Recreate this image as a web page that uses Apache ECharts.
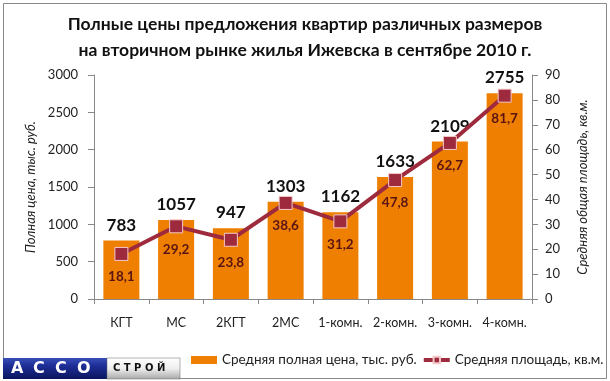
<!DOCTYPE html>
<html>
<head>
<meta charset="utf-8">
<script src="https://cdn.jsdelivr.net/npm/echarts@6/dist/echarts.min.js"></script>
<style>
html,body{margin:0;padding:0;background:#fff;}
#c{width:610px;height:381px;}
</style>
</head>
<body>
<div id="c"></div>
<script>
const categories = ["КГТ","МС","2КГТ","2МС","1-комн.","2-комн.","3-комн.","4-комн."];
const priceValues = [783,1057,947,1303,1162,1633,2109,2755];
const areaValues = [18.1,29.2,23.8,38.6,31.2,47.8,62.7,81.7];
const priceTicks = [0,500,1000,1500,2000,2500,3000];
const areaTicks = [0,10,20,30,40,50,60,70,80,90];
const titleLines = ["Полные цены предложения квартир различных размеров","на вторичном рынке жилья Ижевска в сентябре 2010 г."];
const seriesNames = ["Средняя полная цена, тыс. руб.","Средняя площадь, кв.м."];
const axisNames = ["Полная цена, тыс. руб.","Средняя общая площадь, кв.м."];
const logoLetters = ["А","С","С","О"];

const FONT = "Lato, 'Open Sans', sans-serif";
const chart = echarts.init(document.getElementById('c'), null, {renderer:'canvas'});
const logoGraphics = logoLetters.map((ch,i)=>({
  type:'text', x:11 + i*22, y:369,
  style:{text:ch,fill:'#fff',font:'bold 16px "DejaVu Sans"',verticalAlign:'middle',align:'left'},z:11
}));
const option = {
  animation:false,
  backgroundColor:'#fff',
  textStyle:{fontFamily:FONT},
  title:{
    text: titleLines.join('\n'),
    left:'center', top:6,
    textStyle:{fontFamily:FONT,fontSize:17.5,fontWeight:'bold',color:'#111',lineHeight:26}
  },
  grid:{left:94,right:78,top:75,bottom:82,containLabel:false},
  legend:{
    left:186, top:348, width:424, itemWidth:26, itemGap:5, itemHeight:8,
    textStyle:{fontFamily:FONT,fontSize:13.5,color:'#222'},
    data:[{name:seriesNames[0],icon:'rect'},{name:seriesNames[1],lineStyle:{width:4}}]
  },
  xAxis:{
    type:'category', data:categories,
    axisLine:{lineStyle:{color:'#888',width:1}},
    axisTick:{show:true,length:5,lineStyle:{color:'#888'}},
    axisLabel:{color:'#222',fontSize:12.5,margin:17,fontFamily:FONT,interval:0}
  },
  yAxis:[
    {type:'value',min:priceTicks[0],max:priceTicks[priceTicks.length-1],interval:500,
     name:axisNames[0],nameLocation:'middle',nameGap:45,nameRotate:90,
     nameTextStyle:{fontStyle:'italic',fontSize:13,color:'#222',fontFamily:FONT},
     axisLine:{show:true,lineStyle:{color:'#888'}},
     axisTick:{show:true,length:6,lineStyle:{color:'#888'}},
     axisLabel:{color:'#222',fontSize:13,margin:16,fontFamily:FONT,formatter:v=>String(v)},
     splitLine:{show:false}},
    {type:'value',min:areaTicks[0],max:areaTicks[areaTicks.length-1],interval:10,position:'right',
     name:axisNames[1],nameLocation:'middle',nameGap:44,nameRotate:90,
     nameTextStyle:{fontStyle:'italic',fontSize:13,color:'#222',fontFamily:FONT},
     axisLine:{show:true,lineStyle:{color:'#888'}},
     axisTick:{show:true,length:6,lineStyle:{color:'#888'}},
     axisLabel:{color:'#222',fontSize:13,margin:13,fontFamily:FONT,formatter:v=>String(v)},
     splitLine:{show:false}}
  ],
  series:[
    {name:seriesNames[0],type:'bar',data:priceValues,barWidth:36,yAxisIndex:0,
     itemStyle:{color:'#EE7F00'},
     label:{show:true,position:'top',distance:7,color:'#111',fontSize:17,fontWeight:'bold',fontFamily:FONT,
       formatter:p=>String(p.value)}},
    {name:seriesNames[1],type:'line',data:areaValues,yAxisIndex:1,
     symbol:'rect',symbolSize:13,
     lineStyle:{color:'#9E2B3D',width:4},
     itemStyle:{color:'#9E2B3D',borderColor:'#F5C8C8',borderWidth:1},
     label:{show:true,position:'bottom',distance:9,color:'#5A1414',fontSize:13.5,fontWeight:'bold',fontFamily:FONT,
       formatter:p=>String(p.value).replace('.',',')},
     z:5}
  ],
  graphic:[
    {type:'rect',shape:{x:3.5,y:3.5,width:603,height:375},style:{fill:'none',stroke:'#8a8a8a',lineWidth:1},z:0,silent:true},
    {type:'rect',shape:{x:3,y:358,width:104,height:21},
     style:{fill:new echarts.graphic.LinearGradient(0,0,0,1,[{offset:0,color:'#3a4fb8'},{offset:0.35,color:'#1e2f98'},{offset:1,color:'#0b155e'}])},z:10},
    {type:'rect',shape:{x:107,y:358,width:73,height:21},
     style:{fill:new echarts.graphic.LinearGradient(0,0,0,1,[{offset:0,color:'#ffffff'},{offset:0.5,color:'#eeeeee'},{offset:1,color:'#a8a8a8'}]),stroke:'#666',lineWidth:0.5},z:10},
    ...logoGraphics,
    {type:'text',x:113,y:368.5,
     style:{text:'С Т Р О Й',fill:'#111',font:'bold 10px "DejaVu Sans"',verticalAlign:'middle',align:'left'},z:11}
  ]
};
chart.setOption(option);
</script>
</body>
</html>
